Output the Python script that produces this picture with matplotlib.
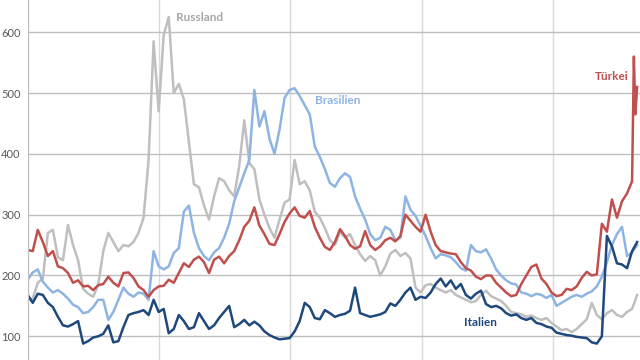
import pandas as pd
import matplotlib
matplotlib.use("Agg")
import matplotlib.pyplot as plt
import matplotlib.dates as mdates

# Biweekly spreads, Jan 2014 - Aug 2018
dates = pd.date_range("2014-01-01", periods=122, freq="14D")

russland = [160, 162, 188, 195, 270, 275, 230, 225, 283, 250,
            225, 178, 170, 165, 185, 240, 270, 255, 240, 250,
            248, 255, 270, 295, 390, 585, 470, 595, 625, 500,
            515, 490, 420, 350, 345, 315, 292, 330, 360, 355,
            340, 330, 380, 455, 385, 375, 325, 300, 278, 262,
            292, 320, 325, 390, 350, 355, 340, 305, 295, 278,
            258, 250, 272, 262, 268, 250, 235, 224, 232, 225,
            200, 215, 236, 242, 232, 237, 228, 180, 172, 184,
            186, 180, 176, 172, 176, 168, 164, 160, 156, 158,
            168, 175, 166, 162, 158, 150, 140, 138, 136, 132,
            134, 130, 127, 130, 122, 116, 110, 112, 107, 112,
            120, 128, 155, 135, 128, 138, 143, 135, 132, 140,
            145, 168]

brasilien = [193, 205, 210, 190, 180, 172, 176, 170, 162, 152,
             148, 138, 140, 148, 160, 160, 127, 140, 160, 180,
             170, 165, 172, 170, 160, 240, 215, 210, 215, 237,
             245, 305, 315, 270, 245, 232, 225, 238, 245, 262,
             285, 322, 345, 368, 390, 505, 445, 470, 425, 400,
             440, 492, 505, 508, 495, 480, 465, 412, 395, 375,
             352, 346, 360, 368, 362, 330, 310, 292, 268, 258,
             262, 280, 275, 258, 262, 330, 308, 298, 282, 265,
             245, 228, 235, 233, 230, 222, 212, 208, 250, 240,
             238, 243, 228, 210, 200, 192, 187, 185, 172, 170,
             166, 170, 168, 163, 168, 150, 155, 160, 165, 168,
             165, 170, 174, 182, 198, 222, 250, 268, 280, 232,
             238, 250]

tuerkei = [242, 240, 275, 255, 232, 240, 215, 212, 204, 188,
           192, 182, 183, 176, 184, 186, 198, 188, 182, 204,
           205, 196, 182, 176, 165, 176, 182, 183, 193, 188,
           204, 220, 214, 226, 231, 222, 204, 226, 231, 220,
           232, 240, 258, 280, 290, 312, 282, 268, 252, 250,
           268, 288, 302, 312, 298, 295, 306, 280, 262, 247,
           242, 255, 276, 265, 250, 244, 248, 273, 250, 242,
           248, 258, 262, 256, 265, 300, 290, 280, 272, 300,
           272, 250, 240, 238, 236, 235, 222, 212, 208, 198,
           194, 200, 200, 188, 180, 172, 166, 168, 186, 200,
           214, 218, 195, 186, 172, 166, 168, 178, 176, 182,
           196, 206, 200, 202, 285, 272, 325, 295, 322, 335,
           355]
tuerkei_tail_dates = pd.to_datetime(["2018-08-13", "2018-08-17", "2018-08-22"])
tuerkei_tail = [560, 465, 510]

italien = [168, 155, 170, 168, 155, 148, 132, 118, 116, 120,
           125, 88, 92, 98, 100, 104, 118, 90, 92, 115,
           135, 138, 140, 143, 135, 160, 140, 145, 105, 112,
           135, 125, 112, 115, 138, 125, 112, 118, 130, 140,
           150, 115, 120, 127, 118, 124, 118, 108, 102, 98,
           95, 96, 97, 108, 125, 155, 148, 130, 128, 143,
           138, 132, 135, 137, 142, 180, 138, 135, 132, 134,
           136, 140, 154, 150, 160, 172, 180, 160, 165, 163,
           172, 186, 195, 182, 192, 178, 186, 168, 162, 170,
           175, 153, 148, 150, 146, 138, 134, 136, 130, 127,
           130, 122, 120, 116, 114, 106, 104, 102, 101, 99,
           98, 97, 90, 88, 100, 265, 248, 220, 218, 212,
           240, 255]

c_ru = "#BFBFBF"
c_br = "#8EB4E3"
c_tr = "#C0504D"
c_it = "#1F497D"

plt.rcParams["font.family"] = ["Lato", "DejaVu Sans"]

fig = plt.figure(figsize=(6.4, 3.6), dpi=100)
ax = fig.add_axes([0.0433, 0.0, 0.9567, 1.0])

tr_dates = list(dates[:len(tuerkei)]) + list(tuerkei_tail_dates)

ax.plot(dates, russland, color=c_ru, lw=1.8)
ax.plot(dates, brasilien, color=c_br, lw=1.8)
ax.plot(tr_dates, tuerkei + tuerkei_tail, color=c_tr, lw=1.8)
ax.plot(dates, italien, color=c_it, lw=1.8)

ax.set_ylim(61, 653)
ax.set_xlim(pd.Timestamp("2014-01-01"), pd.Timestamp("2018-08-30"))
ax.set_yticks([100, 200, 300, 400, 500, 600])
ax.xaxis.set_major_locator(mdates.YearLocator())
ax.set_xticklabels([])
ax.tick_params(axis="x", length=0)
ax.tick_params(axis="y", length=0, labelsize=8, labelcolor="#595959", pad=5)

ax.grid(axis="y", color="#BFBFBF", lw=1)
ax.grid(axis="x", color="#D9D9D9", lw=1)
ax.set_axisbelow(True)
for s in ["top", "right", "bottom"]:
    ax.spines[s].set_visible(False)
ax.spines["left"].set_color("#BFBFBF")

ax.text(pd.Timestamp("2015-02-16"), 625, "Russland", color="#A6A6A6",
        fontsize=8.5, fontweight="bold", va="center", ha="left")
ax.text(pd.Timestamp("2016-03-10"), 488, "Brasilien", color=c_br,
        fontsize=8.5, fontweight="bold", va="center", ha="left")
ax.text(pd.Timestamp("2018-07-30"), 528, "Türkei", color=c_tr,
        fontsize=8.5, fontweight="bold", va="center", ha="right")
ax.text(pd.Timestamp("2017-04-28"), 123, "Italien", color=c_it,
        fontsize=8.5, fontweight="bold", va="center", ha="left")

fig.savefig("out.png", dpi=100)
